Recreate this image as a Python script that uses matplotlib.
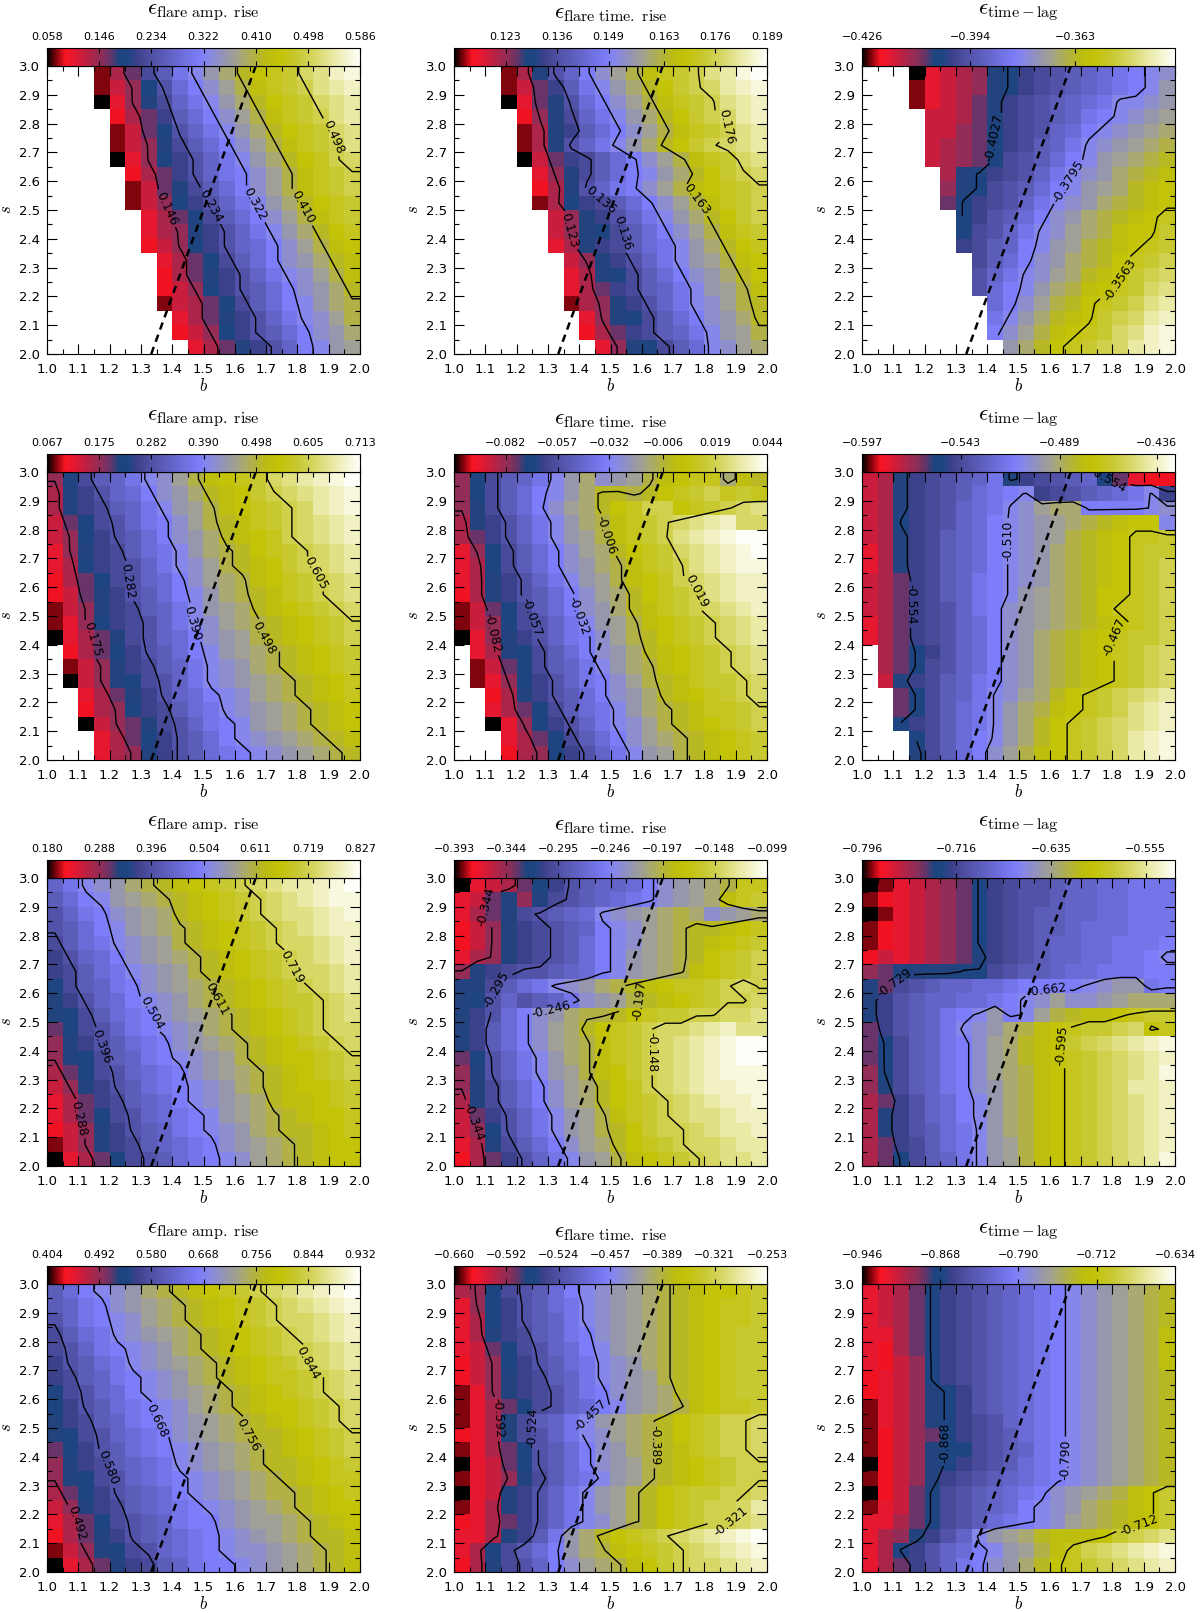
import numpy as np
import matplotlib
matplotlib.use('Agg')
import matplotlib.pyplot as plt
from matplotlib.colors import LinearSegmentedColormap

plt.rcParams['mathtext.fontset'] = 'cm'
plt.rcParams['font.family'] = 'DejaVu Sans'

# cells: one character per cell, 0-z = position on the colour bar (0..35)
# first string is the top row (s=3.0), '.' = empty cell
amp_1 = ["...157bdgikmoqrsuvxy", "...1469cfhjlnprstvwx", "...0368begikmoqrsuvw", "....257adfhjlnprstvw",
         "....1479cegikmoqrsuv", "....1468bdfhjlnprstv", "....0369acegikmoqrtu", ".....257aceghjlnprst",
         ".....1478bdfhjlnprst", ".....1469acegikmoqrs", "......3579bdfhjlnprs", "......3568acegikmoqr",
         "......2469acefhjlnpq", ".......3579bdfhjkmop", ".......2578acegijlnp", ".......2469acdfhjkmo",
         ".......14579bdfhikmn", "........3578acegijln", "........2469acdfhjkm", ".........3578acehikl"]
tim_1 = ["...158cehjlnprstvwyz", "...147adgikmoqstuwxy", "...0378cfhjlnprstvwx", "....268begikmoqstuwx",
         "....158adfhjlnprstvw", "....158cegikmoqstuvw", "....047abdfhjlnprsuv", ".....368bdfhikmoqstu",
         ".....258ceghjlnpqrst", ".....159abdfhjlnprst", "......468acegikmoqst", "......4689bdfhjlnprs",
         "......358abdfgikmoqr", ".......468acegiklnpq", ".......3589bdfhjkmoq", ".......357abdegiklnp",
         ".......1568acegijlno", "........3689bdfhjkmo", "........257abdegikln", ".........3689bdfijlm"]
lag_1 = ["...0345689abcdefghij", "...1345689abcdefghik", "...134578abcdefgiijk", "....44578abcdeghijkl",
         "....44679abcefhijklm", "....45679abdegijklmn", "....45679bcdfhiklmno", ".....589abcegijkmnop",
         ".....689bcdfhiklmopq", ".....79abcegijkmnopq", "......9acdfhjkmnopqr", "......9bcegijlmnpqqs",
         "......abdehiklnopqrs", ".......bdfhjkmnoqrst", ".......cegijlmopqstu", ".......cfhikmnpqrsuv",
         "........fhjlnoqrstvw", "........gikmopqstuwx", "........hjlnpqrsuvxy", ".........kmoqrstuwxy"]
amp_2 = ["69bdegijlnpqrsuvwxyz", "58acefhjkmopqstuvwxy", "58abdegiklnpqrstuwxy", "479bceghjlnoprstuvwx",
         "469acdfhjkmopqrtuvwx", "368abdfgikmnoqrstuvw", "359abcegijlnopqstuvw", "2579bcefhjlmnpqrstuv",
         "2478acdfhikmnoprstuv", "1468abdegiklmopqrstu", "1369abcegijlmnopqrst", "03578bcefhjklnopqrst",
         ".2579acdfhiklmnopqrs", ".1468abdegijkmnopqrs", ".04689bcegijklmnopqr", "..3578acefhijlmnopqr",
         "..2569abdfgijklmnopq", "..04678bceghiklmnopq", "...3579acdfhijklmnop", "...3568acdfghijklmno"]
tim_2 = ["69bdegikmjklnpqrrmpo", "69bdfhikmoonoqrstrsr", "68bdfhjlmoqrttqrstuv", "58acegikmnprstuvwxuu",
         "57acegiklnprstvwxyzz", "369bdfhjlmoqrsuvwxyz", "359bdfhjkmnprstvwxyy", "358acegiklnpqrtuvwxx",
         "258acdfhjlmoqrstvwxx", "1479bdfhjkmoprstuvwx", "1469bcegiklnpqrstuvw", "0368aceghjlnoqrstuvw",
         ".3589bdfhjkmopqrstuv", ".1479bdegikmnpqrstuv", ".1369aceghjlnoprsstu", "..258acdfhjkmopqrstu",
         "..3579bdfgikmnoprrst", "..0369acegijlnopqrst", "...3579bdfhjlmnopqrs", "...2569acegiklnopqrs"]
lag_2 = ["458abcdeg8abcde97322", "458abcdfghiabcdefgia", "458abcefgijlmmhhhhij", "459abcefhijklmnopqqi",
         "458abdefhijklnopqrrs", "358abdefhijkmnopqrss", "358abdefhijkmnopqrst", "457abdeghijkmnopqrst",
         "457abdeghiklmnoqqrst", "457abceghjklmnoqrrst", "357abcefhjklmnopqrst", "357abcefhjkmnopqrsst",
         ".579acefhjkmnopqrstu", ".579bcefhjkmnopqrstu", ".48abdeghjkmnopqrstu", "..79bdegijlmoqrstuvw",
         "..79bdfgikmnpqrstvwx", "..9abdfgikmoqrstuvwx", "...9bdfhikmoqrstuwxy", "...8bdfhjlnpqrstuwxy"]
amp_3 = ["egijkmnopqrstuvwwxyz", "dfhiklmnopqrstuvwxyy", "ceghjklmopqrstuvvwxy", "cdfhiklmnopqrstuvwxx",
         "bdfgijklnopqrstuuvwx", "acefhjklmnopqrstuvwx", "abdfgijklnopqrstuuvw", "9bdeghjklmnopqrstuvw",
         "8acefhijkmnopqrsstuv", "89bdfghjklmnopqrstuv", "79bceghijkmnopqrstuu", "68acdfghjklmnopqrstu",
         "689bdeghijklnopqqrst", "579bcefghjklmnopqrst", "468acdfghijkmnopqqrs", "357abdefhijklmoppqrs",
         "3579bcefghiklmnopqqr", "2468acdeghijkmnoopqr", "1468abdefghjklmnopqq", "03579bcdfghijlmnopqq"]
tim_3 = ["034579acdeefhjklmnrr", "347868bcdefghjklmprs", "3578bcdefijklmnmjklm", "2468abcdehijlmnoopqr",
         "2468abcdfhijlmnopqrs", "3568abcdfhiklmnoqrst", "68abccdefhiklmnpqrst", "88bdfgijkmnopqrrstut",
         "89cecdegjklnopqrsttu", "8acfhjkmnnoqrssttuuv", "8adfhjlmoqrstuuvwxvv", "8adfhjlmnprstuvwxyzz",
         "79cegikmnprstuvwxyzz", "68cegiklnpqstuvwxyyy", "68bdfhjlmoqrtuvwxxyy", "58bdfhjlmoqrstuvwxxy",
         "47acegiklnprstuvvwxx", "469cegiklnoqsttuvwwx", "358bdfhjlmoqrstuuvww", "257acegiklnpqrstuvvw"]
lag_3 = ["01345679abccdeeffggg", "12345679abccdeeffggg", "01345679abcddeeffggg", "12345679abcddefffggg",
         "12345679abcdeeffgggh", "24345678abcdeeffgghi", "67888899bcddeffggghh", "87bcdeeffghhhhijkkgh",
         "8acdeeffghijljjklmmm", "8acdeghikhilnoppqrss", "7acdegijkmnpqrsstuqr", "79bdeghjlmopqstuvwxy",
         "79bdeghjlmopqrstuvwx", "69bdeghjlmnpqrstuvwy", "68bdeghjkmnpqrstuwwx", "57acefhikmnpqrstuvwx",
         "58acefhikmnpqrstuvwx", "58acdfgikmnpqrstuvwx", "57abdfgiklnpqrstuvwx", "579bdegiklnpqrstuvwy"]
amp_4 = ["dfhijkmnopqrstuvwxyz", "deghjklmnopqrstuvwxy", "ceghijlmnopqrstuuvwx", "bdfgijklmnopqrstuvwx",
         "bceghijkmnopqrsttuvw", "acdfgijklmnopqrstuvw", "abdeghijkmnopqrrstuv", "9bcefhijklmnopqrstuv",
         "9acdfghijlmnopqqrstu", "8abdeghijklmnopqrstu", "89bcefghjklmnoopqrst", "79acdfghijklmnopqrst",
         "68abdefgijklmnoopqrs", "689bcefghijklmnopqrr", "579acdefhijklmnnopqr", "468abdefghijklmnopqq",
         "3579bcdeghhjkllmnopq", "2578acdefghijklmnoop", "14689bcefghijjklmnop", "03578abdeghhijklmnop"]
tim_4 = ["569bcdfhijklmnopqqrs", "369acdfgijklmnopqrrs", "359acdegijklmnopqrrs", "358abdeghjklmnopqrss",
         "3479bcefhiklmnopqrss", "2469acdfgijkmnopqrss", "2468abdegijklnopqrss", "1368abceghjklmopqrss",
         "13579bcefhiklmnpqrrs", "1358bdegiklmnoqrsttu", "2358bcegijlmnoqrsttu", "13579cdfhjkmnoprsttu",
         "03479cdfhjklnopqrstt", "13468bdfgiklnopqrstt", "0348acegiklnoqrssttu", "1358acegiklnoqrsttuw",
         "2357acegijlnoqrsttuv", "3358adgkmoqrstuvwxyz", "359bdfhkmnpqrstuvwxy", "258bcehjlmnpqstuuvwx"]
lag_4 = ["34579abcdefghijklmno", "34579abcdefghijklmno", "34579abcdefghijklmno", "33579abcdefghijklmnp",
         "32579abcdefghijklmnp", "32469abcdefghijklmnp", "23469abcdefghijklmno", "234689acdefghijklmno",
         "134689acdefghijklmno", "134689abcefghijklmno", "124679abcdfghijklmno", "1246899bcdeghijklmno",
         "024689abcdfghijklmno", "12468abcdefghijklmno", "02479bcdefghjklmnpqs", "13479bcdefhijkmnopqs",
         "33579bcdfghijlmnopqs", "3568aceiklmopppqstuv", "359acefhiklnprtuvwxy", "357aceghjkmoqrstuvwx"]

# colour bar ranges
ranges = [(0.058, 0.586), (0.110, 0.189), (-0.426, -0.3335),
          (0.067, 0.713), (-0.107, 0.044), (-0.597, -0.426),
          (0.180, 0.827), (-0.393, -0.099), (-0.796, -0.530),
          (0.404, 0.932), (-0.660, -0.253), (-0.946, -0.634)]
# colour bar tick labels
bar_ticks = [[0.058, 0.146, 0.234, 0.322, 0.410, 0.498, 0.586],
             [0.123, 0.136, 0.149, 0.163, 0.176, 0.189],
             [-0.426, -0.394, -0.363],
             [0.067, 0.175, 0.282, 0.390, 0.498, 0.605, 0.713],
             [-0.082, -0.057, -0.032, -0.006, 0.019, 0.044],
             [-0.597, -0.543, -0.489, -0.436],
             [0.180, 0.288, 0.396, 0.504, 0.611, 0.719, 0.827],
             [-0.393, -0.344, -0.295, -0.246, -0.197, -0.148, -0.099],
             [-0.796, -0.716, -0.635, -0.555],
             [0.404, 0.492, 0.580, 0.668, 0.756, 0.844, 0.932],
             [-0.660, -0.592, -0.524, -0.457, -0.389, -0.321, -0.253],
             [-0.946, -0.868, -0.790, -0.712, -0.634]]
# contour levels
contours = [[0.146, 0.234, 0.322, 0.410, 0.498],
            [0.123, 0.136, 0.149, 0.163, 0.176],
            [-0.4027, -0.3795, -0.3563],
            [0.175, 0.282, 0.390, 0.498, 0.605],
            [-0.082, -0.057, -0.032, -0.006, 0.019],
            [-0.554, -0.510, -0.467],
            [0.288, 0.396, 0.504, 0.611, 0.719],
            [-0.344, -0.295, -0.246, -0.197, -0.148],
            [-0.729, -0.662, -0.595],
            [0.492, 0.580, 0.668, 0.756, 0.844],
            [-0.592, -0.524, -0.457, -0.389, -0.321],
            [-0.868, -0.790, -0.712]]
# where the contour labels sit (b, s)
label_pos = [[(1.355, 2.49), (1.48, 2.49), (1.63, 2.5), (1.80, 2.5), (1.89, 2.74)],
             [(1.316, 2.43), (1.44, 2.475), (1.59, 2.42), (1.75, 2.51), (1.88, 2.8)],
             [(1.365, 2.75), (1.65, 2.6), (1.82, 2.26)],
             [(1.13, 2.42), (1.26, 2.62), (1.42, 2.46), (1.63, 2.41), (1.82, 2.6)],
             [(1.114, 2.44), (1.226, 2.49), (1.38, 2.49), (1.49, 2.78), (1.79, 2.6)],
             [(1.126, 2.54), (1.41, 2.76), (1.765, 2.47), (1.78, 2.95)],
             [(1.08, 2.15), (1.15, 2.4), (1.30, 2.51), (1.54, 2.58), (1.80, 2.69)],
             [(1.066, 2.91), (1.034, 2.145), (1.135, 2.61), (1.305, 2.58), (1.60, 2.55), (1.68, 2.395)],
             [(1.12, 2.62), (1.60, 2.55), (1.605, 2.41)],
             [(1.08, 2.17), (1.165, 2.35), (1.32, 2.5), (1.595, 2.47), (1.77, 2.72)],
             [(1.103, 2.54), (1.25, 2.5), (1.455, 2.51), (1.715, 2.44), (1.91, 2.14)],
             [(1.253, 2.45), (1.60, 2.39), (1.89, 2.13)]]

titles = [r'$\epsilon_{\mathrm{flare\ amp.\ rise}}$',
          r'$\epsilon_{\mathrm{flare\ time.\ rise}}$',
          r'$\epsilon_{\mathrm{time-lag}}$']
cells = [amp_1, tim_1, lag_1, amp_2, tim_2, lag_2, amp_3, tim_3, lag_3, amp_4, tim_4, lag_4]

# dashed line b(s)
line_b = [1.333, 1.667]
line_s = [2.0, 3.0]

cmap = LinearSegmentedColormap.from_list('flare', [
    (0.0, (0, 0, 0)), (0.03, (140/255, 5/255, 15/255)), (0.057, (250/255, 20/255, 35/255)),
    (0.086, (228/255, 25/255, 50/255)), (0.114, (200/255, 30/255, 62/255)), (0.143, (170/255, 38/255, 75/255)),
    (0.171, (145/255, 45/255, 88/255)), (0.2, (105/255, 52/255, 105/255)), (0.229, (30/255, 68/255, 128/255)),
    (0.257, (30/255, 70/255, 130/255)), (0.286, (60/255, 65/255, 140/255)), (0.314, (75/255, 75/255, 155/255)),
    (0.4, (100/255, 100/255, 200/255)), (0.486, (125/255, 125/255, 250/255)), (0.514, (135/255, 135/255, 235/255)),
    (0.57, (150/255, 150/255, 175/255)), (0.6, (160/255, 160/255, 150/255)), (0.63, (170/255, 170/255, 110/255)),
    (0.66, (178/255, 178/255, 70/255)), (0.7, (188/255, 188/255, 20/255)), (0.74, (195/255, 195/255, 5/255)),
    (0.8, (200/255, 200/255, 50/255)), (0.857, (215/255, 215/255, 100/255)), (0.92, (235/255, 235/255, 170/255)),
    (1.0, (1, 1, 250/255))])
cmap.set_bad('white')

DIGITS = '0123456789abcdefghijklmnopqrstuvwxyz'


def decode(rows, vmin, vmax):
    grid = []
    for row in rows:
        grid.append([np.nan if ch == '.' else vmin + DIGITS.index(ch) / 35 * (vmax - vmin) for ch in row])
    return np.array(grid)


W, H = 1200, 1613
fig = plt.figure(figsize=(W / 100, H / 100), dpi=100)
lefts = [47, 454, 862]
tops = [66, 472, 878, 1284]
pw, ph = 313, 288
bar_h = 18

for i in range(12):
    r, c = divmod(i, 3)
    x0, y0 = lefts[c], tops[r]
    vmin, vmax = ranges[i]
    ax = fig.add_axes([x0 / W, 1 - (y0 + ph) / H, pw / W, ph / H])
    bar = fig.add_axes([x0 / W, 1 - y0 / H, pw / W, bar_h / H])

    z = decode(cells[i], vmin, vmax)
    ax.imshow(z, cmap=cmap, vmin=vmin, vmax=vmax, extent=[1, 2, 2, 3], origin='upper',
              aspect='auto', interpolation='nearest')

    # contour on cell centres, padded out to the frame
    zp = np.pad(z, 1, mode='edge')
    bs = np.r_[1.0, np.linspace(1.025, 1.975, 20), 2.0]
    ss = np.r_[3.0, np.linspace(2.975, 2.025, 20), 2.0]
    cs = ax.contour(bs, ss, np.ma.masked_invalid(zp), levels=contours[i], colors='k', linewidths=1.0,
                    negative_linestyles='solid')
    fmt = '%.4f' if i == 2 else '%.3f'
    ax.clabel(cs, fmt=fmt, fontsize=9, inline=True, inline_spacing=3, manual=label_pos[i])
    ax.plot(line_b, line_s, color='k', lw=1.8, dashes=(3, 2.2))

    ax.set_xlim(1, 2)
    ax.set_ylim(2, 3)
    ax.set_xticks(np.arange(1.0, 2.01, 0.1))
    ax.set_yticks(np.arange(2.0, 3.01, 0.1))
    ax.set_xticks(np.arange(1.05, 2.0, 0.1), minor=True)
    ax.set_yticks(np.arange(2.05, 3.0, 0.1), minor=True)
    ax.tick_params(which='major', direction='in', top=True, right=True, length=7.5, width=0.8, labelsize=9.5, pad=5)
    ax.tick_params(which='major', axis='x', pad=6.5)
    ax.tick_params(which='minor', direction='in', top=True, right=True, length=3.8, width=0.8)
    ax.set_xlabel(r'$b$', fontsize=12, labelpad=1)
    ax.set_ylabel(r'$s$', fontsize=12, labelpad=3)

    bar.imshow(np.linspace(0, 1, 512)[None, :], cmap=cmap, vmin=0, vmax=1, aspect='auto',
               extent=[vmin, vmax, 0, 1])
    bar.set_xlim(vmin, vmax)
    bar.set_yticks([])
    bar.set_xticks(bar_ticks[i])
    bar.set_xticklabels([('%.3f' % v).replace('-', '\u2212') for v in bar_ticks[i]])
    bar.tick_params(axis='x', direction='in', top=True, bottom=True, labeltop=True, labelbottom=False,
                    length=3.5, width=0.8, labelsize=8, pad=4)

    fig.text((x0 + pw / 2) / W, 1 - (y0 - 53) / H, titles[c], ha='center', va='center', fontsize=16.5)

fig.savefig('out.png', dpi=100)
